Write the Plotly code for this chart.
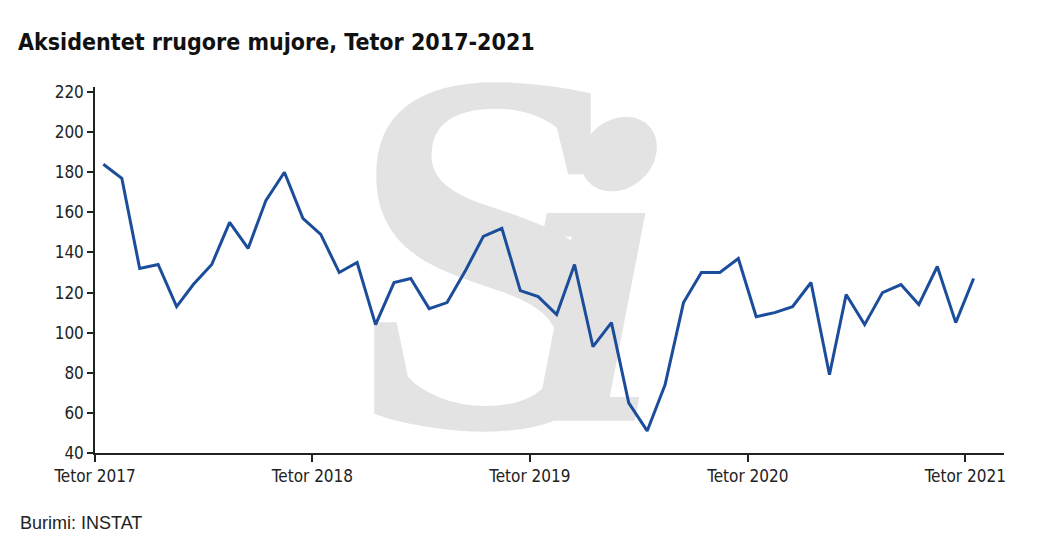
import pandas as pd
import plotly.graph_objects as go

# Aksidentet rrugore mujore, Tetor 2017 - Tetor 2021 (vlerat e lexuara nga grafiku)
muajt = pd.date_range("2017-10-01", periods=49, freq="MS") + pd.Timedelta(days=14)
aksidente = [
    184, 177, 132, 134, 113, 124, 134, 155, 142, 166, 180, 157,
    149, 130, 135, 104, 125, 127, 112, 115, 131, 148, 152, 121,
    118, 109, 134, 93, 105, 65, 51, 74, 115, 130, 130, 137,
    108, 110, 113, 125, 79, 119, 104, 120, 124, 114, 133, 105,
    127,
]
tick_vals = ["2017-10-01", "2018-10-01", "2019-10-01", "2020-10-01", "2021-10-01"]
tick_text = ["Tetor 2017", "Tetor 2018", "Tetor 2019", "Tetor 2020", "Tetor 2021"]

blu = "#1c4d9b"
gri = "#e3e3e3"
narrow = "Liberation Sans Narrow, DejaVu Sans Condensed, Arial Narrow, sans-serif"
serif = "Liberation Serif, DejaVu Serif, serif"

# faqja ka 8px margin ne body, prandaj figura eshte pak me e vogel se dritarja
W, H = 1035, 542

fig = go.Figure()

# watermark "Si" ne sfond (trace teksti para vijes qe te dale poshte saj)
fig.add_trace(go.Scatter(
    x=["2019-07-28"], y=[118], mode="text", text=["<b>S</b>"],
    textfont=dict(family=serif, size=520, color=gri),
    textposition="middle center", hoverinfo="skip", showlegend=False, cliponaxis=False,
))
fig.add_trace(go.Scatter(
    x=["2020-01-24"], y=[106], mode="text", text=["i"],
    textfont=dict(family="DejaVu Serif, serif", size=400, color=gri, weight="bold", style="italic"),
    textposition="middle center", hoverinfo="skip", showlegend=False, cliponaxis=False,
))

fig.add_trace(go.Scatter(
    x=muajt, y=aksidente, mode="lines",
    line=dict(color=blu, width=3),
    showlegend=False,
))

fig.update_layout(
    width=W, height=H,
    margin=dict(l=87, r=39, t=79, b=97),
    paper_bgcolor="white", plot_bgcolor="white",
    title=dict(
        text="<b>Aksidentet rrugore mujore, Tetor 2017-2021</b>",
        x=10 / W, xanchor="left", xref="container",
        y=1 - 34 / H, yanchor="middle", yref="container",
        font=dict(family=narrow, size=23, color="#111111"),
    ),
    annotations=[dict(
        text="Burimi: INSTAT", xref="paper", yref="paper",
        x=-77 / 909, y=-70 / 366, xanchor="left", yanchor="middle",
        showarrow=False, font=dict(family="Liberation Sans, Arial, sans-serif", size=18, color="#222222"),
    )],
)

fig.update_xaxes(
    type="date", range=["2017-10-01", "2021-12-05"],
    tickvals=tick_vals, ticktext=tick_text,
    showgrid=False, zeroline=False,
    showline=True, linecolor="#222222", linewidth=1.5,
    ticks="outside", ticklen=7, tickwidth=1.5, tickcolor="#222222",
    tickfont=dict(family=narrow, size=17, color="#222222"),
)
fig.update_yaxes(
    range=[40, 222.5], tickvals=list(range(40, 221, 20)),
    showgrid=False, zeroline=False,
    showline=True, linecolor="#222222", linewidth=1.5,
    ticks="outside", ticklen=6, tickwidth=1.5, tickcolor="#222222",
    tickfont=dict(family=narrow, size=17, color="#222222"),
)

fig.write_html("out.html")
